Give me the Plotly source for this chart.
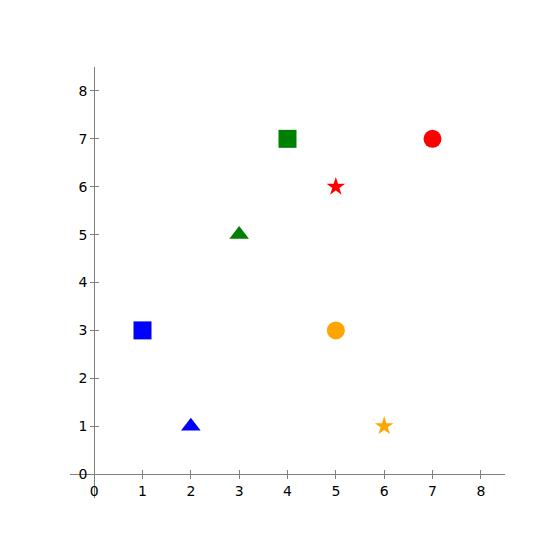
import plotly.graph_objects as go

# Data
x_vals = [1, 2, 3, 4, 5, 7, 5, 6]
y_vals = [3, 1, 5, 7, 6, 7, 3, 1]
groups = ["blue", "blue", "green", "green", "red", "red", "orange", "orange"]
shapes = ["square", "triangle", "triangle", "square", "star", "circle", "circle", "star"]
tick_vals = [0, 1, 2, 3, 4, 5, 6, 7, 8]

# Styles
color_map = {"blue": "#0000ff", "green": "#008000", "red": "#ff0000", "orange": "#ffa500"}
symbol_map = {"square": "square", "triangle": "triangle-up", "star": "star", "circle": "circle"}
size_map = {"square": 18, "triangle": 17, "star": 14, "circle": 18}

fig = go.Figure()
for x, y, g, s in zip(x_vals, y_vals, groups, shapes):
    fig.add_trace(go.Scatter(
        x=[x], y=[y], mode="markers",
        marker=dict(symbol=symbol_map[s], color=color_map[g], size=size_map[s], line=dict(width=0)),
        showlegend=False, hoverinfo="skip"))

rng = [-0.5, 8.5]
pos = (0 - rng[0]) / (rng[1] - rng[0])
axis_color = "#808080"
font = dict(family="DejaVu Sans", size=14, color="black")

common = dict(range=rng, tickvals=tick_vals, showgrid=False, zeroline=False, automargin=False,
              linecolor=axis_color, linewidth=1, tickcolor=axis_color, tickwidth=1, ticklen=4,
              tickfont=font)
overlay = dict(range=rng, tickvals=tick_vals, anchor="free", position=pos, automargin=False,
               showline=False, showgrid=False, zeroline=False, ticks="inside", ticklen=4,
               tickcolor=axis_color, tickwidth=1, showticklabels=False)

# page body has an 8px margin, so the figure is drawn 8px in from the window edge
fig.update_layout(
    width=552, height=552,
    margin=dict(l=62, r=55, t=59, b=62),
    plot_bgcolor="white", paper_bgcolor="white",
    xaxis=dict(**common, anchor="free", position=pos, showline=True, ticks="outside"),
    yaxis=dict(**common, anchor="free", position=pos, showline=True, ticks="outside"),
    xaxis2=dict(**overlay, overlaying="x"),
    yaxis2=dict(**overlay, overlaying="y"),
)
# dummy trace so the overlay axes are drawn
fig.add_trace(go.Scatter(x=[None], y=[None], xaxis="x2", yaxis="y2", showlegend=False, hoverinfo="skip"))

fig.write_html("out.html")
